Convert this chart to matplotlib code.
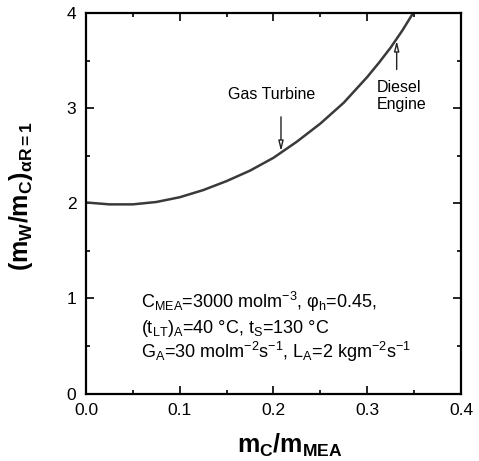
import matplotlib

matplotlib.use('Agg')
import matplotlib.pyplot as plt

# curve
mc_ratio = [0.0, 0.025, 0.05, 0.075, 0.1, 0.125, 0.15, 0.175, 0.2,
            0.225, 0.25, 0.275, 0.3, 0.3125, 0.325, 0.3375, 0.35]
mw_ratio = [2.01, 1.99, 1.99, 2.015, 2.065, 2.14, 2.235, 2.345, 2.48,
            2.65, 2.84, 3.06, 3.33, 3.48, 3.64, 3.82, 4.02]

gas_turbine = (0.208, 2.52)
diesel_engine = (0.3314, 3.74)

x_ticks = [0.0, 0.1, 0.2, 0.3, 0.4]
y_ticks = [0, 1, 2, 3, 4]

plt.rcParams['font.family'] = ['Liberation Sans', 'DejaVu Sans']
plt.rcParams['mathtext.fontset'] = 'custom'
plt.rcParams['mathtext.rm'] = 'Liberation Sans'
plt.rcParams['mathtext.it'] = 'Liberation Sans:italic'
plt.rcParams['mathtext.bf'] = 'Liberation Sans:bold'

fig = plt.figure(figsize=(4.79, 4.61), dpi=100)
ax = fig.add_axes([0.1795, 0.1464, 0.7829, 0.8247])

ax.plot(mc_ratio, mw_ratio, color='#3a3a3a', lw=1.8)

ax.set_xlim(0, 0.4)
ax.set_ylim(0, 4)
ax.set_xticks(x_ticks)
ax.set_xticklabels(['%.1f' % t for t in x_ticks])
ax.set_yticks(y_ticks)
ax.set_xticks([0.05, 0.15, 0.25, 0.35], minor=True)
ax.set_yticks([0.5, 1.5, 2.5, 3.5], minor=True)
ax.tick_params(which='both', direction='in', top=True, right=True,
               labelsize=12.5, width=1.2)
ax.tick_params(which='major', length=6, pad=7)
ax.tick_params(which='minor', length=3)
for s in ax.spines.values():
    s.set_linewidth(1.6)

ax.set_xlabel(r'$\mathbf{m_C/m_{MEA}}$', fontsize=18)
ax.set_ylabel(r'$\mathbf{(m_W/m_C)_{\alpha R=1}}$', fontsize=18)
ax.xaxis.set_label_coords(0.544, -0.100)
ax.yaxis.set_label_coords(-0.137, 0.52)

arrow = dict(arrowstyle='-|>,head_width=0.15,head_length=0.6', lw=1,
             color='#222222', fc='white')
ax.annotate('', xy=gas_turbine, xytext=(gas_turbine[0], 2.94),
            arrowprops=arrow)
ax.annotate('', xy=diesel_engine, xytext=(diesel_engine[0], 3.38),
            arrowprops=arrow)
ax.text(0.198, 3.10, 'Gas Turbine', fontsize=11.5, ha='center',
        va='baseline')
ax.text(0.3104, 3.17, 'Diesel', fontsize=11.5, ha='left', va='baseline')
ax.text(0.3104, 2.99, 'Engine', fontsize=11.5, ha='left', va='baseline')

ax.text(0.059, 0.90,
        r'C$_{\mathrm{MEA}}$=3000 molm$^{\mathrm{-3}}$, φ$_{\mathrm{h}}$=0.45,',
        fontsize=13, va='baseline')
ax.text(0.059, 0.64,
        r'(t$_{\mathrm{LT}}$)$_{\mathrm{A}}$=40 °C, t$_{\mathrm{S}}$=130 °C',
        fontsize=13, va='baseline')
ax.text(0.059, 0.375,
        r'G$_{\mathrm{A}}$=30 molm$^{\mathrm{-2}}$s$^{\mathrm{-1}}$, '
        r'L$_{\mathrm{A}}$=2 kgm$^{\mathrm{-2}}$s$^{\mathrm{-1}}$',
        fontsize=13, va='baseline')

fig.savefig('out.png', dpi=100)
plt.close(fig)
